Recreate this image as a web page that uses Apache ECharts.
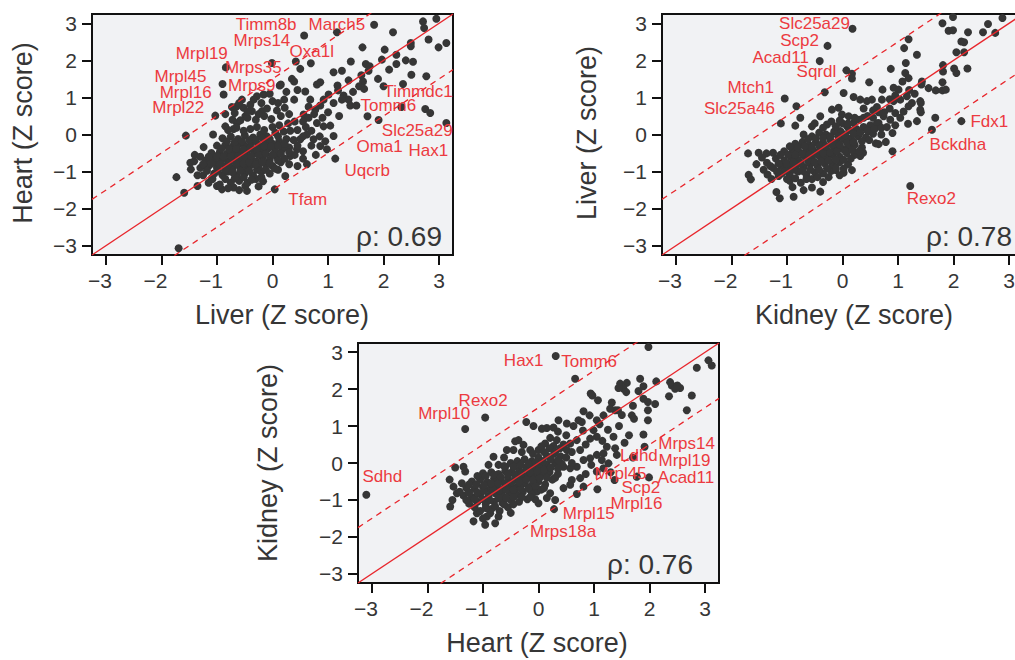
<!DOCTYPE html>
<html>
<head>
<meta charset="utf-8">
<script src="https://cdn.jsdelivr.net/npm/echarts@6/dist/echarts.min.js"></script>
<style>
  html, body { margin: 0; padding: 0; background: #ffffff; overflow: hidden; }
  #chart { width: 1040px; height: 660px; }
</style>
</head>
<body>
<div id="chart"></div>
<script>
// Shared axis set-up: Z scores from -3 to 3 with a little padding
const TICKS = [-3, -2, -1, 0, 1, 2, 3];
const AXIS_RANGE = [-3.25, 3.25];
// identity line and the +/- 1.5 band around it
const BAND_OFFSETS = [0, 1.5, -1.5];

// Liver (x) vs Heart (y)
const liverHeart = [
  [2.95,3.12],[2.71,3.05],[2.73,2.87],[2.17,2.76],[1.83,2.96],[2.81,2.56],[3.13,2.47],[2.99,2.35],
  [2.49,2.47],[2.49,2.38],[1.62,2.35],[2.02,2.29],[2.23,2.15],[2.53,1.96],[2.23,1.90],[1.97,2.02],
  [1.41,1.97],[1.68,1.90],[1.75,1.84],[1.73,1.72],[1.25,1.72],[1.10,1.68],[1.37,1.46],[1.63,1.43],
  [1.56,1.30],[1.65,1.23],[1.17,1.32],[1.18,1.19],[1.28,1.05],[1.37,0.94],[1.40,0.78],[1.51,0.78],
  [1.25,0.94],[2.50,1.61],[2.77,1.57],[2.75,0.69],[1.71,0.49],[-1.69,-3.07],[-1.56,-0.03],
  [-1.73,-1.15],[-1.59,-1.57],[-1.48,-0.76],[-1.41,-0.72],[-1.24,-0.34],[-1.47,-0.94],[-1.35,-1.39],
  [-1.22,-0.83],[-1.09,-0.60],[-1.07,0.00],[0.69,1.92],[0.35,1.50],[0.39,1.43],[0.59,1.16],
  [0.86,1.41],[0.80,1.35],[1.01,1.08],[0.92,0.94],[0.86,0.78],[0.77,0.67],[0.68,0.94],[0.39,0.94],
  [0.21,0.94],[0.00,0.90],[-0.28,1.03],[-0.34,0.94],[-0.16,1.08],[-0.55,0.94],[-0.64,0.76],
  [-0.73,0.74],[-0.52,0.72],[-0.37,0.63],[-0.19,0.63],[-0.49,0.49],[-0.85,0.22],[-0.70,0.15],
  [-0.64,0.31],[0.56,0.54],[0.65,0.45],[0.80,0.31],[0.92,0.22],[1.04,0.24],[1.10,-0.04],[0.95,-0.18],
  [0.98,-0.40],[0.86,-0.31],[0.74,-0.13],[0.62,0.00],[0.50,-0.13],[0.44,-0.40],[0.32,-0.58],
  [0.23,-1.12],[-0.17,-1.26],[-0.46,-1.52],[-0.49,-1.39],[-0.70,-1.43],[-0.91,-1.48],[-1.00,-1.39],
  [-1.09,-1.17],
  [-1.15,-1.30],[-0.95,-1.35],[-0.75,-1.30],[-0.60,-1.25],[-0.45,-1.30],[-0.30,-1.20],
  [-1.25,-1.10],[-1.05,-1.05],[-0.90,-1.10],[-0.80,-1.00],[-0.65,-1.10],[-0.50,-1.05],[-0.35,-1.10],
  [-0.20,-1.00],[-0.05,-1.05],[0.10,-0.95],
  [-1.30,-0.90],[-1.15,-0.85],[-1.00,-0.90],[-0.85,-0.85],[-0.72,-0.92],[-0.60,-0.85],[-0.48,-0.90],
  [-0.38,-0.82],[-0.25,-0.88],[-0.12,-0.80],[0.00,-0.85],[0.15,-0.75],[0.30,-0.80],
  [-1.20,-0.70],[-1.05,-0.72],[-0.92,-0.68],[-0.80,-0.72],[-0.68,-0.65],[-0.55,-0.70],[-0.42,-0.65],
  [-0.30,-0.72],[-0.18,-0.62],[-0.05,-0.68],[0.08,-0.60],[0.22,-0.65],[0.40,-0.55],[0.55,-0.65],
  [-1.10,-0.50],[-0.95,-0.48],[-0.82,-0.52],[-0.70,-0.45],[-0.58,-0.50],[-0.45,-0.42],[-0.33,-0.50],
  [-0.20,-0.45],[-0.08,-0.38],[0.05,-0.45],[0.18,-0.40],[0.30,-0.35],[0.45,-0.30],
  [-1.00,-0.30],[-0.85,-0.28],[-0.72,-0.32],[-0.60,-0.25],[-0.50,-0.30],[-0.38,-0.22],[-0.25,-0.28],
  [-0.12,-0.20],[0.00,-0.25],[0.12,-0.18],[0.25,-0.12],[0.38,-0.15],[0.55,-0.05],
  [-0.90,-0.10],[-0.75,-0.05],[-0.62,-0.12],[-0.50,-0.02],[-0.35,-0.08],[-0.22,0.00],[-0.10,-0.05],
  [0.05,0.05],[0.20,0.08],[0.32,0.10],[0.45,0.12],
  [-0.80,0.12],[-0.65,0.18],[-0.52,0.10],[-0.40,0.15],[-0.28,0.20],[-0.15,0.12],[0.00,0.20],
  [0.12,0.25],[0.28,0.30],[0.40,0.35],
  [-0.72,0.40],[-0.58,0.38],[-0.45,0.45],[-0.30,0.40],[-0.15,0.50],[-0.02,0.42],[0.15,0.50],[0.30,0.55],
  [-1.08,-1.20],[-0.85,-1.20],[-0.68,-1.18],[-0.52,-1.15],[-0.38,-1.22],[-0.20,-1.15],
  [-1.18,-0.98],[-0.98,-0.98],[-0.85,-0.95],[-0.72,-1.02],[-0.58,-0.98],[-0.42,-0.98],[-0.28,-0.95],
  [-0.12,-0.95],[0.05,-0.92],
  [-1.25,-0.80],[-1.10,-0.78],[-0.95,-0.80],[-0.78,-0.78],[-0.65,-0.78],[-0.52,-0.78],[-0.42,-0.75],
  [-0.30,-0.80],[-0.18,-0.75],[-0.05,-0.78],[0.10,-0.70],
  [-1.15,-0.60],[-1.00,-0.58],[-0.88,-0.60],[-0.75,-0.58],[-0.62,-0.58],[-0.50,-0.58],[-0.38,-0.58],
  [-0.25,-0.55],[-0.12,-0.52],[0.00,-0.55],[0.15,-0.52],[0.30,-0.48],
  [-0.92,-0.38],[-0.78,-0.40],[-0.65,-0.38],[-0.52,-0.40],[-0.40,-0.35],[-0.28,-0.38],[-0.15,-0.32],
  [-0.02,-0.32],[0.10,-0.30],[0.22,-0.25],
  [-0.82,-0.18],[-0.68,-0.20],[-0.55,-0.18],[-0.42,-0.15],[-0.30,-0.15],[-0.18,-0.10],[-0.05,-0.12],
  [0.10,-0.05],
  [-0.85,0.55],[-0.68,0.58],[-0.45,0.62],[-0.25,0.55],[-0.10,0.70],[0.08,0.65],[0.22,0.72],[-0.60,0.85],
  [-0.40,0.80],[-0.20,0.85],[0.10,0.85],[-0.05,1.10],[0.25,1.15],[0.45,1.20],[0.15,1.35],
  [0.60,0.20],[0.70,0.10],[0.55,0.35],[0.75,0.55],[0.90,0.45],[0.65,0.75],[1.00,0.60],[0.85,-0.05],
  [0.70,-0.30],[0.55,-0.45],[0.62,-0.80],[0.45,-0.85],[0.78,-0.55],[1.20,0.50],[1.10,0.85],[1.45,1.15],
  [1.60,1.60],[1.90,1.50],[2.10,1.75],[2.40,2.00],[2.00,1.30],
  [-1.35,-1.10],[-1.40,-0.55],[-1.30,-0.60],[-0.80,-1.45],[-0.60,-1.50],[-0.25,-1.40]
];
const liverHeartGenes = [
  ['Timm8b', 0.57, 2.67], ['March5', 1.16, 2.76], ['Mrps14', -0.01, 1.93], ['Oxa1l', 0.42, 1.97],
  ['Mrpl19', -0.84, 1.81], ['Mrps35', 0.50, 1.77], ['Mrpl45', -0.90, 1.36], ['Mrps9', 0.13, 1.32],
  ['Mrpl16', -0.88, 1.08], ['Mrpl22', -1.03, 0.51], ['Timmdc1', 2.35, 1.36], ['Tomm6', 2.32, 0.74],
  ['Slc25a29', 2.84, 0.58], ['Oma1', 1.91, 0.39], ['Hax1', 3.13, 0.31], ['Uqcrb', 1.13, -0.65],
  ['Tfam', 0.04, -1.48]
];

// Kidney (x) vs Liver (y)
const kidneyLiver = [
  [1.80,3.00],[1.99,3.17],[1.91,2.80],[1.99,2.81],[2.26,2.76],[2.53,2.76],[2.62,2.98],[2.88,3.14],
  [2.75,2.74],[2.14,2.51],[2.19,2.49],[2.05,2.22],[2.19,2.22],[2.01,1.78],[2.05,1.66],[2.25,1.78],
  [1.81,1.87],[1.81,1.70],[1.80,1.41],[1.68,1.19],[1.80,1.19],[1.86,1.21],[1.19,2.57],[1.11,2.33],
  [1.34,2.15],[1.14,1.93],[0.87,1.77],[1.13,1.66],[1.19,1.52],[1.43,1.43],[1.42,1.35],[1.08,1.43],
  [0.92,1.26],[1.01,1.21],[0.72,1.21],[0.48,1.41],[0.17,1.64],[0.17,1.51],[-0.32,1.14],[0.02,1.12],
  [0.20,1.01],[0.32,0.94],[0.44,0.90],[0.53,0.94],[0.62,0.74],[0.71,0.94],[0.92,0.90],[1.04,0.94],
  [1.16,1.03],[1.19,0.76],[1.40,0.90],[1.41,0.85],[1.40,0.67],[1.41,0.60],[0.95,0.58],[1.04,0.45],
  [0.86,0.40],[0.74,0.49],[0.65,0.31],[0.56,0.22],[0.47,0.09],[0.38,0.45],[0.20,0.31],[0.08,0.22],
  [-0.04,0.09],[-0.19,0.67],[-0.07,0.72],[-0.01,0.54],[0.11,0.49],[-0.40,0.49],[-0.28,0.27],
  [-0.55,0.22],[-0.76,0.45],[-1.11,0.30],[-0.85,0.24],[1.67,0.45],[0.90,-0.45],[0.90,0.04],
  [1.18,0.29],[1.34,0.36],[0.60,-0.24],[0.65,-0.26],[0.37,-0.49],[0.32,-0.58],[0.17,-0.96],
  [0.02,-1.03],[-0.12,-0.96],[-0.40,-1.54],[-0.55,-1.43],[-0.88,-1.68],[-1.13,-1.72],[-1.19,-1.55],
  [-1.69,-1.09],[-1.65,-1.21],[-1.70,-0.51],[-1.51,-0.49],[-1.37,-0.51],[-1.25,-0.49],[-1.36,-0.76],
  [-1.30,-0.85],[-1.35,-1.08],[-1.15,-1.12],
  [-0.95,-1.25],[-0.75,-1.30],[-0.55,-1.20],[-0.35,-1.28],
  [-1.10,-1.05],[-0.95,-1.10],[-0.80,-1.00],[-0.65,-1.08],[-0.50,-1.02],[-0.35,-1.05],[-0.20,-0.98],
  [-0.05,-1.10],
  [-1.25,-0.90],[-1.10,-0.85],[-0.95,-0.90],[-0.82,-0.82],[-0.70,-0.88],[-0.58,-0.80],[-0.45,-0.85],
  [-0.32,-0.78],[-0.18,-0.82],[-0.05,-0.75],[0.10,-0.80],
  [-1.20,-0.65],[-1.05,-0.70],[-0.92,-0.62],[-0.80,-0.68],[-0.68,-0.60],[-0.55,-0.65],[-0.42,-0.58],
  [-0.30,-0.62],[-0.18,-0.55],[-0.05,-0.60],[0.08,-0.50],[0.22,-0.55],
  [-1.05,-0.45],[-0.90,-0.42],[-0.78,-0.48],[-0.65,-0.40],[-0.52,-0.45],[-0.40,-0.38],[-0.28,-0.42],
  [-0.15,-0.35],[-0.02,-0.38],[0.10,-0.32],[0.22,-0.28],[0.35,-0.35],
  [-0.85,-0.25],[-0.72,-0.20],[-0.60,-0.28],[-0.48,-0.20],[-0.35,-0.22],[-0.22,-0.15],[-0.10,-0.20],
  [0.02,-0.12],[0.15,-0.10],[0.28,-0.05],[0.42,-0.08],[0.55,0.02],
  [-0.70,0.00],[-0.55,-0.05],[-0.42,0.05],[-0.30,0.00],[-0.15,0.08],[-0.02,0.05],[0.12,0.12],
  [0.25,0.15],[0.38,0.20],[0.50,0.25],[0.62,0.30],
  [-0.50,0.30],[-0.20,0.35],[0.00,0.30],[0.30,0.40],[0.45,0.50],[0.75,0.60],[0.85,0.70],
  [-1.00,-1.20],[-0.85,-1.18],[-0.65,-1.20],[-0.45,-1.15],[-0.25,-1.15],
  [-1.18,-1.00],[-1.02,-0.98],[-0.88,-0.95],[-0.72,-0.98],[-0.58,-0.95],[-0.42,-0.95],[-0.28,-0.92],
  [-0.12,-0.90],[0.02,-0.92],
  [-1.15,-0.78],[-1.00,-0.78],[-0.88,-0.75],[-0.75,-0.78],[-0.62,-0.72],[-0.50,-0.75],[-0.38,-0.72],
  [-0.25,-0.70],[-0.12,-0.68],[0.02,-0.68],[0.15,-0.65],
  [-1.12,-0.55],[-0.98,-0.55],[-0.85,-0.55],[-0.72,-0.52],[-0.60,-0.55],[-0.48,-0.52],[-0.35,-0.50],
  [-0.22,-0.48],[-0.10,-0.45],[0.05,-0.45],[0.18,-0.42],[0.30,-0.45],
  [-0.95,-0.32],[-0.80,-0.35],[-0.68,-0.32],[-0.55,-0.35],[-0.42,-0.30],[-0.30,-0.32],[-0.18,-0.28],
  [-0.05,-0.28],[0.08,-0.22],[0.20,-0.20],[0.35,-0.18],[0.48,-0.15],
  [-0.62,-0.12],[-0.48,-0.10],[-0.35,-0.10],[-0.22,-0.05],[-0.08,-0.05],[0.05,-0.02],[0.20,0.02],
  [0.32,0.05],[0.45,0.10],[0.58,0.15],[0.70,0.18],
  [-0.35,0.18],[-0.12,0.22],[0.10,0.30],[0.22,0.45],[0.55,0.45],[0.65,0.60],[0.80,0.20],[0.95,0.25],
  [1.10,0.62],[1.25,0.85],[1.30,1.10],[1.55,1.25],[1.20,1.20],[0.95,1.05],[0.85,0.95],[0.55,0.65],
  [0.38,0.70],[0.70,0.00],[0.78,-0.20],[-0.05,0.38],
  [-1.45,-0.62],[-1.55,-0.80],[-1.42,-0.95],[-1.28,-1.20],[-0.90,-1.42],[-0.70,-1.50]
];
const kidneyLiverGenes = [
  ['Slc25a29', 0.18, 2.85], ['Scp2', -0.27, 2.39], ['Acad11', -0.41, 1.98], ['Sqrdl', 0.07, 1.73],
  ['Mtch1', -1.04, 0.97], ['Slc25a46', -0.83, 0.76], ['Fdx1', 2.14, 0.36], ['Bckdha', 1.61, 0.13],
  ['Rexo2', 1.22, -1.39]
];

// Heart (x) vs Kidney (y)
const heartKidney = [
  [1.98,3.14],[2.85,2.58],[3.06,2.78],[3.12,2.64],[1.83,2.28],[1.89,2.08],[2.12,2.21],[2.37,2.19],
  [2.40,2.10],[2.46,2.01],[2.55,2.03],[2.35,1.81],[2.76,1.83],[2.67,1.43],[1.47,2.15],[1.59,2.17],
  [1.53,2.01],[1.58,1.92],[1.44,2.03],[0.94,1.88],[0.97,1.83],[1.07,1.70],[1.32,1.64],[1.38,1.43],
  [1.43,1.43],[1.29,1.47],[1.89,1.74],[1.97,1.65],[1.97,1.43],[1.97,1.16],[1.63,0.75],[1.68,1.29],
  [1.72,1.20],[0.81,1.40],[0.92,1.29],[1.05,1.16],[1.10,1.05],[1.17,1.29],[0.99,0.89],[0.72,1.16],
  [0.78,1.11],[0.63,1.00],[0.51,1.07],[0.36,1.16],[0.27,0.96],[0.15,0.95],[0.06,0.93],[-0.22,1.11],
  [-0.09,1.00],[0.21,0.68],[0.33,0.62],[0.27,0.46],[0.12,0.53],[0.00,0.35],[0.39,0.40],[0.51,0.35],
  [0.57,0.53],[0.69,0.62],[0.93,0.66],[1.05,0.71],[1.35,0.71],[1.38,0.40],[1.41,0.22],[1.23,0.44],
  [1.17,0.26],[1.05,0.22],[0.93,0.13],[0.81,0.08],[0.69,-0.10],[0.57,-0.14],[0.45,-0.10],[0.60,-0.46],
  [0.75,-0.41],[0.81,-0.64],[0.57,-0.59],[0.45,-0.68],[0.21,-0.82],[0.00,-1.09],[1.05,-0.23],
  [1.17,-0.14],[1.26,-0.01],[1.14,0.08],[-1.59,-1.18],[-1.50,-0.12],[-1.35,-0.10],[-1.32,-0.23],
  [-1.53,-0.64],[-1.47,-0.82],[-1.17,-1.58],[-0.96,-1.67],[-0.78,-1.63],[-0.93,-1.45],[-1.11,-1.36],
  [-0.87,-1.36],[-0.62,0.15],[-0.42,0.59],[-0.36,0.62],[-0.27,0.49],[-0.45,0.35],[-0.57,0.35],
  [-0.81,0.17],[-0.72,-0.05],[-0.60,-0.10],[-0.06,-0.98],[-0.03,-0.77],[-0.15,-0.73],
  [-1.05,-1.30],[-0.85,-1.25],[-0.70,-1.30],[-0.55,-1.20],
  [-1.25,-1.10],[-1.10,-1.05],[-0.95,-1.12],[-0.80,-1.05],[-0.65,-1.08],[-0.50,-1.00],[-0.35,-1.05],
  [-0.20,-0.98],
  [-1.35,-0.88],[-1.20,-0.92],[-1.05,-0.85],[-0.90,-0.90],[-0.78,-0.82],[-0.65,-0.88],[-0.52,-0.80],
  [-0.40,-0.85],[-0.28,-0.78],[-0.12,-0.85],[0.05,-0.72],
  [-1.30,-0.68],[-1.15,-0.70],[-1.00,-0.65],[-0.88,-0.72],[-0.75,-0.62],[-0.62,-0.68],[-0.50,-0.60],
  [-0.38,-0.65],[-0.25,-0.55],[-0.12,-0.60],[0.00,-0.50],[0.12,-0.58],[0.25,-0.45],
  [-1.20,-0.50],[-1.05,-0.45],[-0.92,-0.52],[-0.80,-0.42],[-0.68,-0.48],[-0.55,-0.40],[-0.42,-0.45],
  [-0.30,-0.38],[-0.18,-0.32],[-0.05,-0.35],[0.08,-0.30],[0.20,-0.25],[0.35,-0.30],
  [-1.00,-0.28],[-0.85,-0.25],[-0.72,-0.30],[-0.60,-0.22],[-0.48,-0.25],[-0.35,-0.18],[-0.22,-0.12],
  [-0.10,-0.15],[0.02,-0.08],[0.15,-0.05],[0.30,0.00],[0.42,-0.02],
  [-0.90,-0.05],[-0.50,0.00],[-0.38,0.05],[-0.25,0.10],[-0.12,0.05],[0.00,0.15],[0.15,0.20],
  [0.28,0.25],[0.40,0.18],
  [-0.30,0.30],[-0.15,0.35],[0.05,0.45],[0.20,0.40],
  [-1.15,-1.20],[-0.95,-1.22],[-0.78,-1.18],[-0.62,-1.12],[-0.45,-1.12],
  [-1.30,-1.00],[-1.15,-0.98],[-1.00,-0.98],[-0.88,-1.00],[-0.72,-0.95],[-0.58,-0.95],[-0.45,-0.92],
  [-0.30,-0.92],[-0.15,-0.92],
  [-1.42,-0.78],[-1.25,-0.80],[-1.10,-0.80],[-0.98,-0.75],[-0.82,-0.72],[-0.70,-0.75],[-0.58,-0.72],
  [-0.45,-0.72],[-0.32,-0.70],[-0.18,-0.68],[-0.05,-0.62],[0.10,-0.68],
  [-1.38,-0.55],[-1.25,-0.58],[-1.12,-0.58],[-0.98,-0.60],[-0.85,-0.55],[-0.72,-0.55],[-0.60,-0.55],
  [-0.48,-0.52],[-0.35,-0.52],[-0.22,-0.45],[-0.10,-0.45],[0.02,-0.40],[0.15,-0.40],[0.30,-0.40],
  [-1.10,-0.35],[-0.95,-0.35],[-0.80,-0.32],[-0.68,-0.38],[-0.55,-0.30],[-0.42,-0.32],[-0.30,-0.28],
  [-0.15,-0.25],[-0.02,-0.22],[0.10,-0.18],[0.22,-0.12],[0.35,-0.15],
  [-0.62,-0.08],[-0.45,-0.10],[-0.32,-0.05],[-0.18,-0.02],[-0.05,0.02],[0.08,0.05],[0.22,0.10],
  [0.35,0.08],[0.50,0.15],
  [-0.10,0.25],[0.10,0.30],[0.30,0.30],[0.45,0.50],[0.60,0.30],[0.75,0.35],[0.85,0.50],[0.50,0.75],
  [0.35,0.85],[0.80,0.88],[1.15,0.60],[1.25,0.90],[1.45,1.00],[1.55,0.55],[1.30,-0.25],[0.95,-0.05],
  [0.85,-0.30],[0.60,0.00],[1.50,1.30],[1.70,1.55],[2.10,1.60],[2.50,2.10],[1.80,1.95],
  [-1.00,-1.50],[-0.72,-1.45],[-0.50,-1.35],[-1.55,-1.00],[-1.60,-0.45],[0.30,-1.00],[0.15,-0.95]
];
const heartKidneyGenes = [
  ['Sdhd', -3.10, -0.86], ['Mrpl10', -1.32, 0.92], ['Rexo2', -0.96, 1.23], ['Hax1', 0.31, 2.90],
  ['Tomm6', 0.66, 2.28], ['Mrps14', 1.91, 0.44], ['Ldhd', 1.70, 0.15], ['Mrpl19', 1.89, 0.77],
  ['Acad11', 1.99, -0.39], ['Mrpl45', 1.37, -0.46], ['Scp2', 1.77, -0.37], ['Mrpl16', 1.06, -0.71],
  ['Mrpl15', 0.69, -0.84], ['Mrps18a', 0.28, -1.25]
];

const rhoValues = ['0.69', '0.78', '0.76'];
const axisTitles = [
  ['Liver (Z score)', 'Heart (Z score)'],
  ['Kidney (Z score)', 'Liver (Z score)'],
  ['Heart (Z score)', 'Kidney (Z score)']
];

// ---- styling and layout ----
const FONT = "'Liberation Sans', Arial, Helvetica, sans-serif";
const INK = '#363636';
const RED = '#e8262c';
const LABEL_RED = '#ec3a40';
const PANEL_BG = '#f1f2f4';
const TICK_FONT = 21;
const MINUS_W = 12;   // advance of the minus sign at TICK_FONT

// pixel offsets that keep the gene names clear of each other
const labelOffsets = [
  { Timm8b: [-38, -11], March5: [0, -8], Mrps14: [-10, -22], Oxa1l: [16, -10], Mrpl19: [-24, -14],
    Mrps35: [-47, -1], Mrpl45: [-42, -8], Mrps9: [-28, 0], Mrpl16: [-38, -2], Mrpl22: [-37, -8],
    Timmdc1: [15, 7], Tomm6: [-13, -2], Slc25a29: [-13, 18], Oma1: [1, 26], Hax1: [-18, 27],
    Uqcrb: [32, 12], Tfam: [33, 10] },
  { Slc25a29: [-38, -5], Scp2: [-28, -5], Acad11: [-39, -4], Sqrdl: [-30, 1], Mtch1: [-34, -11],
    Slc25a46: [-57, 2], Fdx1: [28, 0], Bckdha: [26, 15], Rexo2: [21, 12] },
  { Sdhd: [16, -18], Mrpl10: [-21, -16], Rexo2: [-2, -17], Hax1: [-32, 5], Tomm6: [14, -17],
    Mrps14: [42, -3], Ldhd: [6, -2], Mrpl19: [41, 26], Acad11: [37, 0], Mrpl45: [6, -6],
    Scp2: [4, 11], Mrpl16: [39, 14], Mrpl15: [12, 19], Mrps18a: [9, 22] }
];

const panels = [
  { grid: { left: 92, top: 14, width: 361, height: 241 }, xTitle: [282, 315], yTitle: [23, 133],
    rho: [442, 236], points: liverHeart, genes: liverHeartGenes },
  { grid: { left: 662, top: 14, width: 361, height: 241 }, xTitle: [854, 315], yTitle: [587, 133],
    rho: [1012, 236], points: kidneyLiver, genes: kidneyLiverGenes },
  { grid: { left: 358, top: 343, width: 361, height: 240 }, xTitle: [537, 643], yTitle: [268, 463],
    rho: [693, 564], points: heartKidney, genes: heartKidneyGenes }
];

// x tick labels keep the digit centred under the tick, the minus hangs to the left
const xTickText = v => v < 0 ? '\u2212' + (-v) + '{pad| }' : String(v);
const yTickText = v => String(v).replace('-', '\u2212');

function axisFor(kind, idx) {
  return {
    type: 'value',
    gridIndex: idx,
    min: AXIS_RANGE[0],
    max: AXIS_RANGE[1],
    axisLine: { show: false, onZero: false },
    splitLine: { show: false },
    axisTick: { show: true, customValues: TICKS, length: 10, lineStyle: { color: '#111', width: 2 } },
    axisLabel: {
      show: true, customValues: TICKS,
      formatter: kind === 'x' ? xTickText : yTickText,
      margin: kind === 'x' ? 15 : 15,
      color: INK, fontFamily: FONT, fontSize: TICK_FONT,
      rich: { pad: { width: MINUS_W, fontSize: TICK_FONT, fontFamily: FONT } }
    }
  };
}

const grids = [], xAxes = [], yAxes = [], series = [], graphics = [];

panels.forEach((p, i) => {
  grids.push(Object.assign({
    show: true, backgroundColor: PANEL_BG, borderColor: '#111', borderWidth: 2, containLabel: false
  }, p.grid));
  xAxes.push(axisFor('x', i));
  yAxes.push(axisFor('y', i));

  series.push({
    type: 'scatter', xAxisIndex: i, yAxisIndex: i, z: 2, silent: true,
    symbol: 'circle', symbolSize: 8,
    itemStyle: { color: INK, opacity: 1 },
    data: p.points
  });

  series.push({
    type: 'scatter', xAxisIndex: i, yAxisIndex: i, z: 3, silent: true,
    symbol: 'circle', symbolSize: 8,
    itemStyle: { color: INK, opacity: 1 },
    label: {
      show: true, position: 'inside', formatter: '{b}',
      color: LABEL_RED, fontFamily: FONT, fontSize: 17
    },
    data: p.genes.map(g => ({
      name: g[0], value: [g[1], g[2]],
      label: { offset: labelOffsets[i][g[0]] || [0, 0] }
    }))
  });

  BAND_OFFSETS.forEach(off => {
    series.push({
      type: 'line', xAxisIndex: i, yAxisIndex: i, z: 5, silent: true,
      showSymbol: false, clip: true,
      lineStyle: off === 0
        ? { color: RED, width: 1.4, type: 'solid' }
        : { color: RED, width: 1.3, type: [6, 5] },
      data: [[AXIS_RANGE[0], AXIS_RANGE[0] + off], [AXIS_RANGE[1], AXIS_RANGE[1] + off]]
    });
  });

  graphics.push({
    type: 'text', x: p.xTitle[0], y: p.xTitle[1], silent: true,
    style: { text: axisTitles[i][0], fill: INK, font: '27px ' + FONT, align: 'center', verticalAlign: 'middle' }
  });
  graphics.push({
    type: 'text', x: p.yTitle[0], y: p.yTitle[1], rotation: Math.PI / 2, silent: true,
    style: { text: axisTitles[i][1], fill: INK, font: '27px ' + FONT, align: 'center', verticalAlign: 'middle' }
  });
  graphics.push({
    type: 'text', x: p.rho[0], y: p.rho[1], silent: true,
    style: { text: '\u03c1: ' + rhoValues[i], fill: INK, font: '28px ' + FONT, align: 'right', verticalAlign: 'middle' }
  });
});

const chart = echarts.init(document.getElementById('chart'), null, { renderer: 'svg' });
chart.setOption({
  animation: false,
  backgroundColor: '#ffffff',
  grid: grids,
  xAxis: xAxes,
  yAxis: yAxes,
  series: series,
  graphic: graphics
});
</script>
</body>
</html>
